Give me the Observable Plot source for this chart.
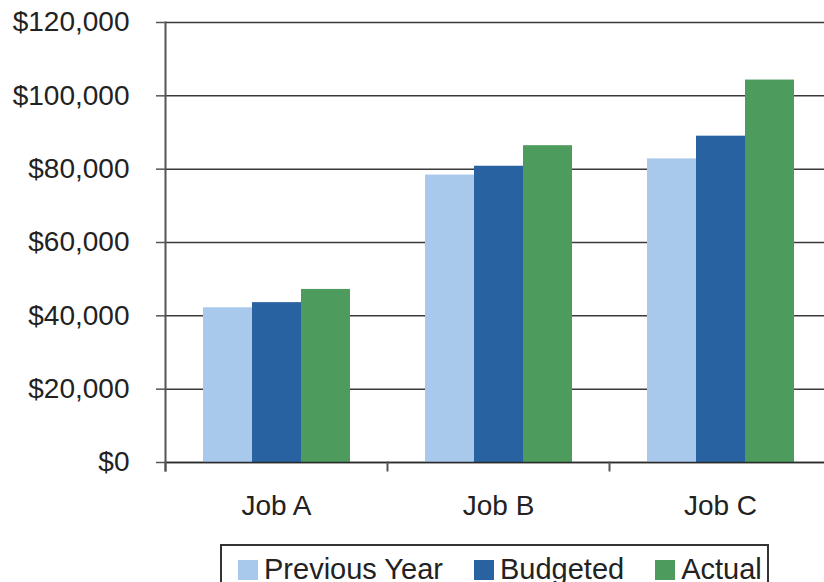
<!DOCTYPE html>
<html>
<head>
<meta charset="utf-8">
<script src="https://cdn.jsdelivr.net/npm/d3@7"></script>
<script src="https://cdn.jsdelivr.net/npm/@observablehq/plot@0.6"></script>
<style>
  html, body { margin: 0; padding: 0; background: #fff; width: 824px; height: 582px; overflow: hidden; }
  body { position: relative; font-family: "Liberation Sans", Arial, sans-serif; color: #222; }
  #chart { width: 832px; }
  #chart svg { display: block; max-width: none !important; width: 832px; height: 540px; }
  #legend {
    position: absolute; left: 220px; top: 544px; width: 545px; height: 60px;
    border: 2px solid #333; box-sizing: content-box; background: #fff;
  }
  #legend .row { position: absolute; left: 16px; top: 3px; height: 40px; display: flex; align-items: center; font-size: 29px; white-space: nowrap; }
  #legend .item { display: flex; align-items: center; margin-right: 31px; white-space: nowrap; flex: none; }
  #legend .sw { width: 20px; height: 20px; margin-right: 6px; margin-top: 2px; flex: none; }
</style>
</head>
<body>
<div id="chart"></div>
<div id="legend"><div class="row" id="legendRow"></div></div>
<script>
const jobs = ["Job A", "Job B", "Job C"];
const series = ["Previous Year", "Budgeted", "Actual"];
const previousYear = [42200, 78400, 82800];
const budgeted = [43600, 80800, 89000];
const actual = [47200, 86400, 104300];
const colors = ["#A9C9EC", "#2862A0", "#4D9B5D"];
const yTicks = [0, 20000, 40000, 60000, 80000, 100000, 120000];

const values = [previousYear, budgeted, actual];
const data = [];
jobs.forEach((job, j) => series.forEach((s, k) => data.push({job, series: s, value: values[k][j]})));

const fmt = d => "$" + d3.format(",")(d);

const chart = Plot.plot({
  width: 832,
  height: 540,
  marginLeft: 164,
  marginRight: 0,
  marginTop: 22,
  marginBottom: 78,
  style: {fontFamily: "'Liberation Sans', Arial, sans-serif", color: "#222", background: "#fff", maxWidth: "none"},
  fx: {domain: jobs, padding: 0, label: null},
  x: {domain: series, paddingInner: 0, paddingOuter: 0.725, axis: null},
  y: {domain: [0, 120000], axis: null},
  color: {domain: series, range: colors},
  marks: [
    Plot.ruleY(yTicks, {stroke: "#3a3a3a", strokeWidth: 1.5}),
    Plot.barY(data, {fx: "job", x: "series", y: "value", fill: "series"}),
    Plot.ruleY([0], {stroke: "#2a2a2a", strokeWidth: 1.5}),
    Plot.frame({anchor: "left", facetAnchor: "left", stroke: "#555", strokeWidth: 2, insetBottom: -8}),
    Plot.frame({anchor: "left", stroke: "#555", strokeWidth: 2, insetTop: 440, insetBottom: -8}),
    Plot.axisY(yTicks, {anchor: "left", tickSize: 9, tickPadding: 27, tickFormat: fmt, fontSize: 28, stroke: "#555", strokeWidth: 1.5, fill: "#222", label: null}),
    Plot.axisFx({anchor: "bottom", tickSize: 0, tickPadding: 33, fontSize: 28, fill: "#222", label: null})
  ]
});
document.getElementById("chart").appendChild(chart);

const row = document.getElementById("legendRow");
series.forEach((s, i) => {
  const item = document.createElement("div");
  item.className = "item";
  const sw = document.createElement("div");
  sw.className = "sw";
  sw.style.background = colors[i];
  const t = document.createElement("span");
  t.textContent = s;
  item.appendChild(sw);
  item.appendChild(t);
  row.appendChild(item);
});
</script>
</body>
</html>
